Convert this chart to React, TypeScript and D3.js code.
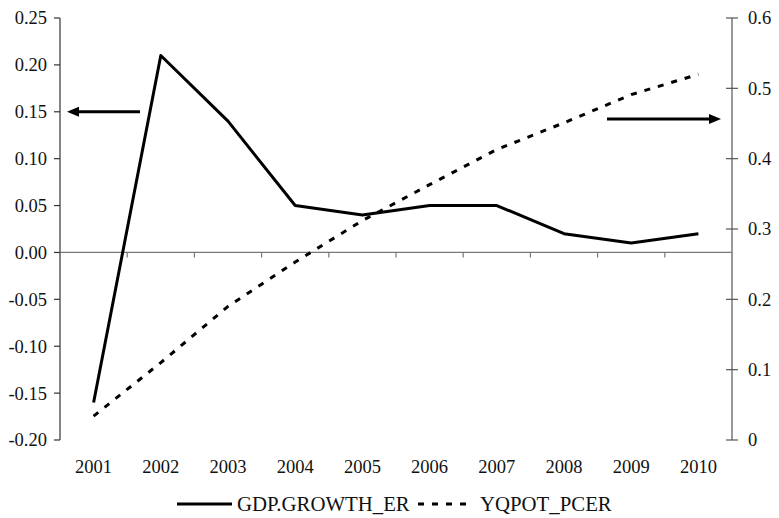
import React from "react";
import * as d3 from "d3";

const years = ["2001","2002","2003","2004","2005","2006","2007","2008","2009","2010"];
const gdpGrowth = [-0.16, 0.21, 0.14, 0.05, 0.04, 0.05, 0.05, 0.02, 0.01, 0.02];
const yqpot = [0.034, 0.11, 0.19, 0.253, 0.312, 0.363, 0.413, 0.451, 0.491, 0.52];
const leftTicks = [0.25, 0.2, 0.15, 0.1, 0.05, 0, -0.05, -0.1, -0.15, -0.2];
const rightTicks = [0, 0.1, 0.2, 0.3, 0.4, 0.5, 0.6];
const seriesNames = ["GDP.GROWTH_ER", "YQPOT_PCER"];

const W = 779, H = 518;
const left = 60, right = 732, top = 18, bottom = 440;
const FONT = "Liberation Serif";

function arrow(x1: number, x2: number, y: number) {
  const dir = x2 > x1 ? 1 : -1;
  const base = x2 - dir * 12;
  return (
    <g>
      <line x1={x1} x2={base} y1={y} y2={y} stroke="#000" strokeWidth={3} />
      <path d={`M${x2},${y} L${base},${y - 5} L${base},${y + 5} Z`} fill="#000" />
    </g>
  );
}

export default function App() {
  const x = d3.scaleBand().domain(years).range([left, right]);
  const cx = (i: number) => (x(years[i]) as number) + x.bandwidth() / 2;
  const yL = d3.scaleLinear().domain([-0.2, 0.25]).range([bottom, top]);
  const yR = d3.scaleLinear().domain([0, 0.6]).range([bottom, top]);

  const lineL = d3.line<number>().x((_, i) => cx(i)).y((d) => yL(d));
  const lineR = d3.line<number>().x((_, i) => cx(i)).y((d) => yR(d));

  const zeroY = yL(0);
  const boundaries = years.slice(1).map((y) => x(y) as number);
  const ts = { fontFamily: FONT };

  return (
    <svg width={W} height={H} style={{ position: "absolute", left: 0, top: 0, background: "#fff" }}>
      {/* left axis */}
      <line x1={left} x2={left} y1={top} y2={bottom} stroke="#333" strokeWidth={1.2} />
      {leftTicks.map((t) => (
        <g key={"l" + t}>
          <line x1={left - 6} x2={left} y1={yL(t)} y2={yL(t)} stroke="#333" strokeWidth={1.2} />
          <text x={47} y={yL(t)} dy="0.35em" textAnchor="end" fontSize={18.5} fill="#111" style={ts}>
            {d3.format(".2f")(t).replace("−", "-")}
          </text>
        </g>
      ))}
      {/* right axis */}
      <line x1={right} x2={right} y1={top} y2={bottom} stroke="#555" strokeWidth={1.2} />
      {rightTicks.map((t) => (
        <g key={"r" + t}>
          <line x1={right - 6} x2={right + 6} y1={yR(t)} y2={yR(t)} stroke="#555" strokeWidth={1.2} />
          <text x={748} y={yR(t)} dy="0.35em" textAnchor="start" fontSize={18.5} fill="#111" style={ts}>
            {t === 0 ? "0" : d3.format(".1f")(t)}
          </text>
        </g>
      ))}
      {/* zero line / x axis */}
      <line x1={left} x2={right} y1={zeroY} y2={zeroY} stroke="#777" strokeWidth={1.2} />
      {boundaries.map((b, i) => (
        <line key={"b" + i} x1={b} x2={b} y1={zeroY} y2={zeroY + 5} stroke="#777" strokeWidth={1.2} />
      ))}
      {years.map((y, i) => (
        <text key={y} x={cx(i)} y={473} textAnchor="middle" fontSize={18.5} fill="#111" style={ts}>{y}</text>
      ))}
      {/* series */}
      <path d={lineR(yqpot) as string} fill="none" stroke="#000" strokeWidth={3} strokeDasharray="6,8" />
      <path d={lineL(gdpGrowth) as string} fill="none" stroke="#000" strokeWidth={3} strokeLinejoin="round" />
      {/* arrows */}
      {arrow(140, 67, yL(0.15))}
      {arrow(607, 721, 119)}
      {/* legend */}
      <line x1={177} x2={232} y1={504} y2={504} stroke="#000" strokeWidth={3} />
      <text x={237} y={511} fontSize={20.8} fill="#111" style={ts}>{seriesNames[0]}</text>
      <line x1={418} x2={474} y1={504} y2={504} stroke="#000" strokeWidth={3} strokeDasharray="6,8" />
      <text x={480} y={511} fontSize={20.8} fill="#111" style={ts}>{seriesNames[1]}</text>
    </svg>
  );
}
